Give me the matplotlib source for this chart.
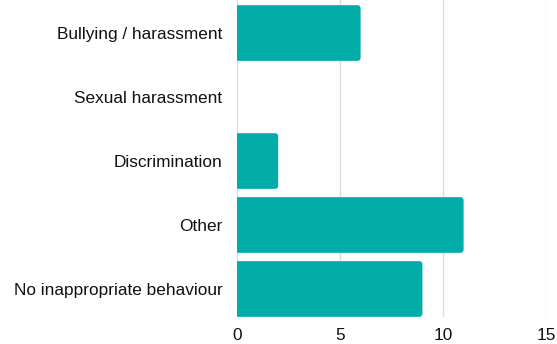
import numpy as np
import matplotlib.pyplot as plt
from matplotlib.patches import Polygon

plt.rcParams['font.family'] = ['Liberation Sans', 'DejaVu Sans']

categories = ['Bullying / harassment', 'Sexual harassment', 'Discrimination',
              'Other', 'No inappropriate behaviour']
counts = [6, 0, 2, 11, 9]
xticks = [0, 5, 10, 15]

color = '#02aca8'

fig = plt.figure(figsize=(5.57, 3.44), dpi=100)
ax = fig.add_axes([237 / 557, 27 / 344, 309 / 557, 317 / 344])

bars = ax.barh(range(len(categories)), counts, height=0.87, color=color)

# swap plain bars for ones with rounded right corners (~3px radius)
rx, ry = 0.15, 0.047
th = np.linspace(0, np.pi / 2, 8)
for b in bars:
    x, y = b.get_x(), b.get_y()
    w, h = b.get_width(), b.get_height()
    b.set_visible(False)
    if w <= 0:
        continue
    x1, y1 = x + w, y + h
    # corner at (x1, y) and (x1, y1)
    c1 = [(x1 - rx + rx * np.sin(t), y + ry - ry * np.cos(t)) for t in th]
    c2 = [(x1 - rx + rx * np.cos(t), y1 - ry + ry * np.sin(t)) for t in th]
    pts = [(x, y)] + c1 + c2 + [(x, y1)]
    ax.add_patch(Polygon(pts, closed=True, fc=color, ec='none', zorder=3))

ax.set_xlim(0, 15)
ax.set_ylim(4.4375, -0.516)
ax.set_xticks(xticks)
ax.set_yticks(range(len(categories)))
ax.set_yticklabels(categories)
ax.tick_params(axis='both', length=0, labelsize=12.4, colors='#111111')
ax.tick_params(axis='y', pad=10.5)
ax.tick_params(axis='x', pad=8)
ax.grid(axis='x', color='#dddddd', linewidth=1)
ax.set_axisbelow(True)
for s in ax.spines.values():
    s.set_visible(False)

fig.savefig('out.png', dpi=100)
